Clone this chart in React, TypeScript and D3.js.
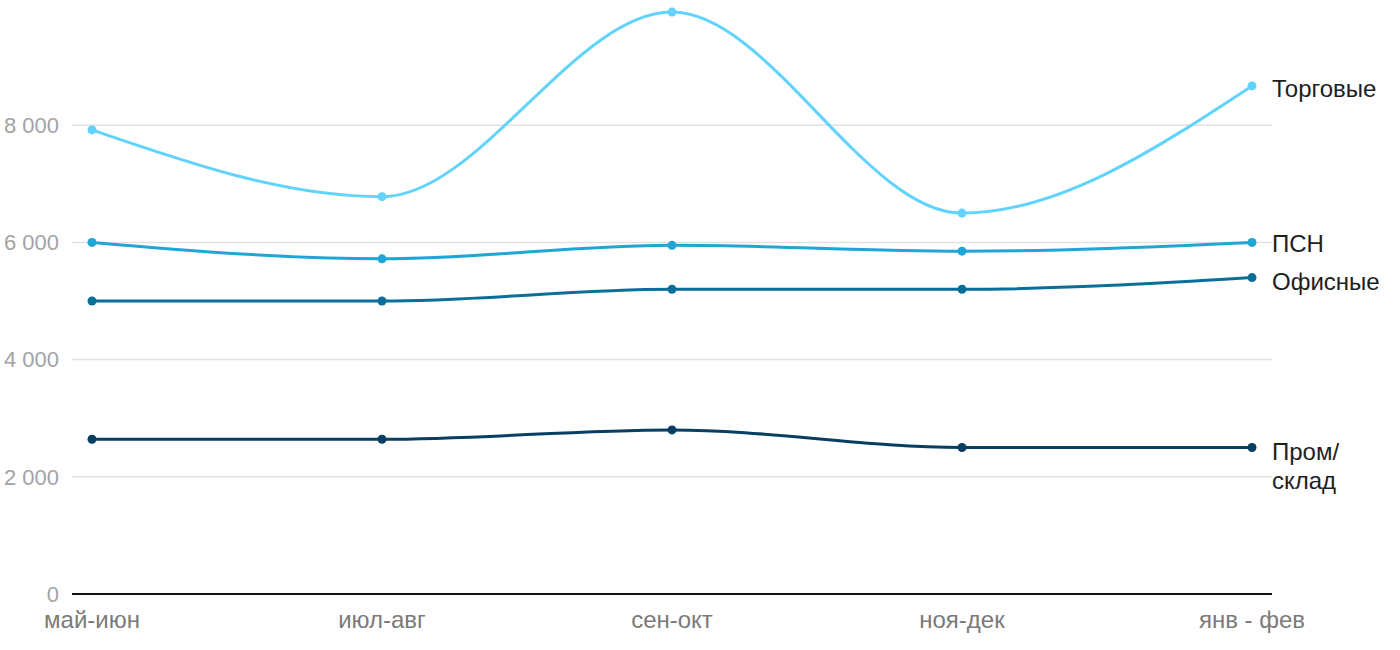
import React from "react";
import * as d3 from "d3";

const periods = ["май-июн", "июл-авг", "сен-окт", "ноя-дек", "янв - фев"];
const torgovye = [7920, 6780, 9930, 6500, 8670];
const psn = [6000, 5720, 5950, 5850, 6000];
const ofisnye = [5000, 5000, 5200, 5200, 5400];
const promSklad = [2640, 2640, 2800, 2500, 2500];
const yTicks = [0, 2000, 4000, 6000, 8000];

const series = [
  { name: ["Торговые"], values: torgovye, color: "#62d3fc", dy: 3 },
  { name: ["ПСН"], values: psn, color: "#1fa5d6", dy: 1.5 },
  { name: ["Офисные"], values: ofisnye, color: "#096f9a", dy: 4.5 },
  { name: ["Пром/", "склад"], values: promSklad, color: "#073e62", dy: 4.5 },
];

export default function App() {
  const W = 1400, H = 650;
  const x = d3.scalePoint<string>().domain(periods).range([92, 1252]);
  const y = d3.scaleLinear().domain([0, 10000]).range([594, 8]);
  const line = d3
    .line<number>()
    .x((_, i) => x(periods[i]) as number)
    .y((d) => y(d))
    .curve(d3.curveMonotoneX);
  const font = "'Liberation Sans', Arial, sans-serif";
  return (
    <svg width={W} height={H} style={{ position: "absolute", left: 0, top: 0 }} fontFamily={font}>
      {yTicks.map((t) => (
        <g key={t}>
          {t > 0 && <line x1={72} x2={1272} y1={y(t)} y2={y(t)} stroke="#e2e2e2" strokeWidth={1.5} />}
          <text x={59} y={y(t)} dy="0.35em" textAnchor="end" fontSize={22} fill="#a3a3a3">
            {d3.format(",")(t).replace(/,/g, " ")}
          </text>
        </g>
      ))}
      <line x1={72} x2={1272} y1={y(0)} y2={y(0)} stroke="#111" strokeWidth={2} />
      {periods.map((p) => (
        <text key={p} x={x(p)} y={628} textAnchor="middle" fontSize={24} fill="#7a7a7a">
          {p}
        </text>
      ))}
      {series.map((s) => (
        <g key={s.name.join("")}>
          <path d={line(s.values) || ""} fill="none" stroke={s.color} strokeWidth={3} />
          {s.values.map((v, i) => (
            <circle key={i} cx={x(periods[i])} cy={y(v)} r={4.5} fill={s.color} />
          ))}
          <text x={1272} y={y(s.values[s.values.length - 1]) + s.dy} fontSize={24} fill="#1e1e1e">
            {s.name.map((n, k) => (
              <tspan key={k} x={1272} dy={k === 0 ? "0.35em" : "1.2em"}>
                {n}
              </tspan>
            ))}
          </text>
        </g>
      ))}
    </svg>
  );
}
